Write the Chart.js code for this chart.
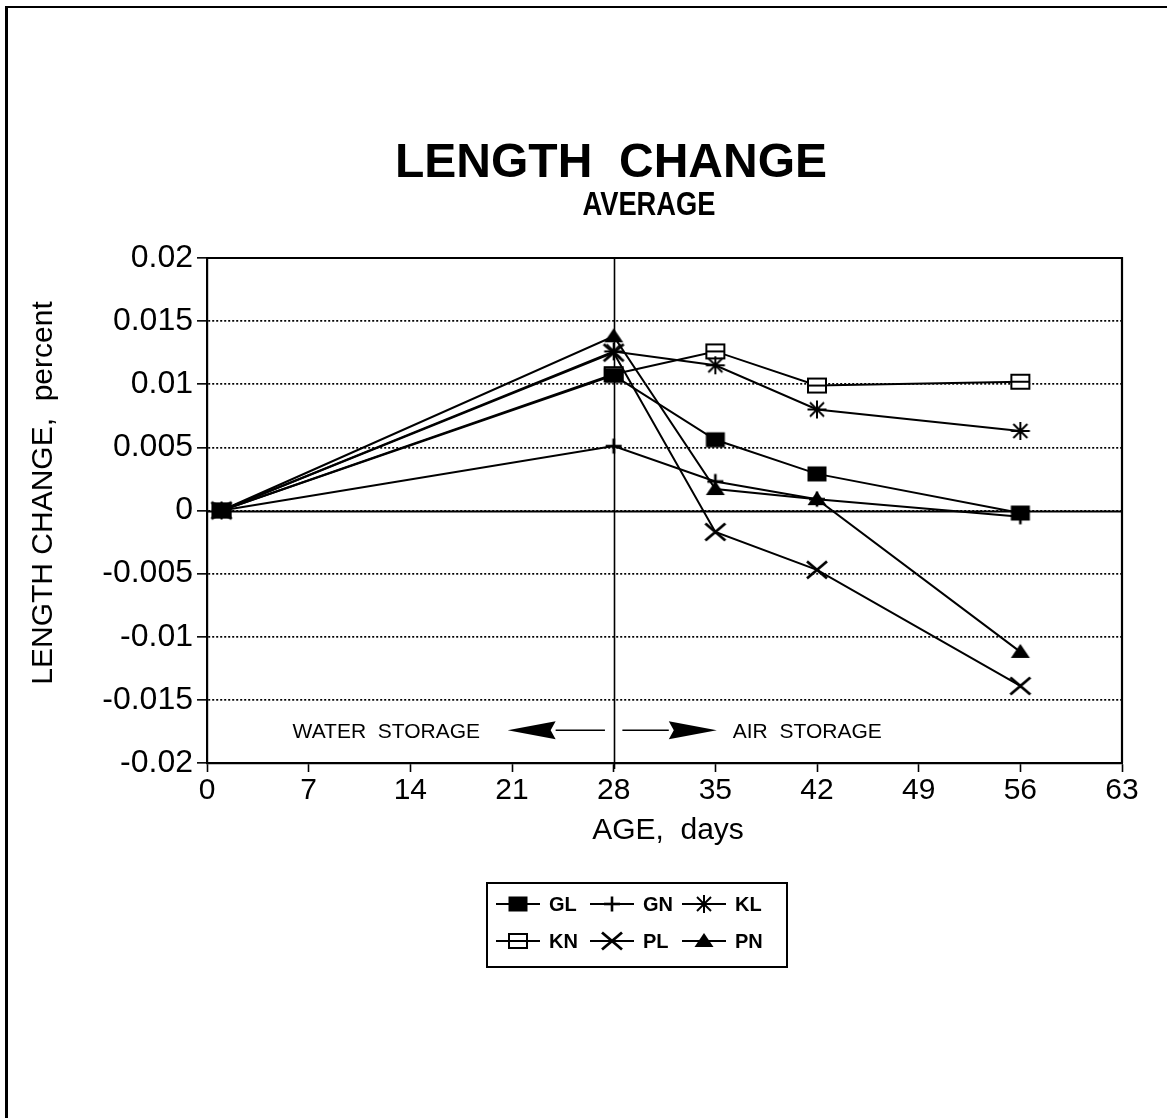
<!DOCTYPE html>
<html>
<head>
<meta charset="utf-8">
<title>Length Change - Average</title>
<script src="https://cdn.jsdelivr.net/npm/chart.js@4/dist/chart.umd.min.js"></script>
<style>
  html, body { margin: 0; padding: 0; background: #fff; }
  #wrap { position: relative; width: 1167px; height: 1118px; }
</style>
</head>
<body>
<div id="wrap"><canvas id="lengthChart"></canvas></div>
<script>
// age of the readings, days
const days = [1, 28, 35, 42, 56];

// average length change, percent
const GL = [0, 0.0107, 0.0056, 0.0029, -0.0002];
const GN = [0, 0.0051, 0.0023, 0.0009, -0.0005];
const KL = [0, 0.0126, 0.0115, 0.0080, 0.0063];
const KN = [0, 0.0108, 0.0126, 0.0099, 0.0102];
const PL = [0, 0.0125, -0.0017, -0.0047, -0.0139];
const PN = [0, 0.0138, 0.0017, 0.0009, -0.0112];

const seriesNames = ['GL', 'GN', 'KL', 'KN', 'PL', 'PN'];
const seriesValues = [GL, GN, KL, KN, PL, PN];

const xTicks = [0, 7, 14, 21, 28, 35, 42, 49, 56, 63];
const yTicks = [-0.02, -0.015, -0.01, -0.005, 0, 0.005, 0.01, 0.015, 0.02];

const switchDay = 28; // specimens moved from water to air

const FONT = '"Liberation Sans", Arial, Helvetica, sans-serif';

// hand drawn markers, the old plotter ones are not square
function makeMarker(kind) {
  const c = document.createElement('canvas');
  c.width = 26; c.height = 26;
  const g = c.getContext('2d');
  g.strokeStyle = '#000';
  g.fillStyle = '#000';
  g.lineWidth = 2.4;
  g.lineCap = 'butt';
  const cx = 13, cy = 13;
  const seg = (x1, y1, x2, y2) => { g.beginPath(); g.moveTo(x1, y1); g.lineTo(x2, y2); g.stroke(); };
  switch (kind) {
    case 'GL':
      g.fillRect(cx - 9.5, cy - 7.5, 19, 15);
      break;
    case 'KN':
      g.fillStyle = '#fff';
      g.fillRect(cx - 9, cy - 7, 18, 14);
      g.lineWidth = 2;
      g.strokeRect(cx - 9, cy - 7, 18, 14);
      seg(cx - 9, cy, cx + 9, cy);
      break;
    case 'GN':
      g.lineWidth = 2.6;
      seg(cx - 8, cy, cx + 8, cy);
      seg(cx, cy - 7.5, cx, cy + 7.5);
      break;
    case 'KL':
      g.lineWidth = 2;
      seg(cx - 9.5, cy, cx + 9.5, cy);
      seg(cx, cy - 9, cx, cy + 9);
      seg(cx - 7, cy - 7, cx + 7, cy + 7);
      seg(cx - 7, cy + 7, cx + 7, cy - 7);
      break;
    case 'PL':
      g.lineWidth = 2.8;
      seg(cx - 10, cy - 8.5, cx + 10, cy + 8.5);
      seg(cx - 10, cy + 8.5, cx + 10, cy - 8.5);
      break;
    case 'PN':
      g.beginPath();
      g.moveTo(cx, cy - 8);
      g.lineTo(cx + 9.5, cy + 6);
      g.lineTo(cx - 9.5, cy + 6);
      g.closePath();
      g.fill();
      break;
  }
  return c;
}

const markers = {};
seriesNames.forEach(n => { markers[n] = makeMarker(n); });

const datasets = seriesNames.map((name, i) => ({
  label: name,
  data: days.map((d, j) => ({ x: d, y: seriesValues[i][j] })),
  borderColor: '#000',
  backgroundColor: '#000',
  borderWidth: 2,
  tension: 0,
  pointStyle: markers[name],
  pointRadius: 10,
  pointHoverRadius: 10,
  fill: false
}));

function fmtTick(v) {
  return String(Math.round(v * 1000) / 1000);
}

const decorations = {
  id: 'decorations',
  beforeDatasetsDraw(chart) {
    const { ctx, chartArea: a, scales: { x, y } } = chart;
    ctx.save();
    ctx.strokeStyle = '#000';
    // zero line
    const y0 = Math.round(y.getPixelForValue(0)) + 0.5;
    ctx.lineWidth = 2.2;
    ctx.beginPath(); ctx.moveTo(a.left, y0); ctx.lineTo(a.right, y0); ctx.stroke();
    // water / air divider
    const xd = Math.round(x.getPixelForValue(switchDay)) + 0.5;
    ctx.lineWidth = 1.6;
    ctx.beginPath(); ctx.moveTo(xd, a.top); ctx.lineTo(xd, a.bottom + 6); ctx.stroke();
    // frame top and right
    ctx.lineWidth = 2.2;
    ctx.beginPath();
    ctx.moveTo(a.left, a.top);
    ctx.lineTo(a.right, a.top);
    ctx.lineTo(a.right, a.bottom);
    ctx.stroke();
    ctx.restore();
  },
  afterDraw(chart) {
    const { ctx, scales: { x, y } } = chart;
    ctx.save();
    ctx.fillStyle = '#000';
    ctx.strokeStyle = '#000';

    // page border
    ctx.fillRect(5, 6, 3, 1112);
    ctx.fillRect(5, 6, 1162, 2);

    // headings
    ctx.textAlign = 'center';
    ctx.textBaseline = 'alphabetic';
    ctx.font = 'bold 48px ' + FONT;
    ctx.fillText('LENGTH  CHANGE', 611, 177, 436);
    ctx.font = 'bold 34px ' + FONT;
    ctx.fillText('AVERAGE', 649, 215, 133);

    // axis titles
    ctx.font = '30px ' + FONT;
    ctx.fillText('AGE,  days', 668, 839);
    ctx.save();
    ctx.translate(52, 493);
    ctx.rotate(-Math.PI / 2);
    ctx.fillText('LENGTH CHANGE,  percent', 0, 0);
    ctx.restore();

    // storage annotation
    const ay = y.getPixelForValue(-0.0174);
    ctx.font = '21px ' + FONT;
    ctx.textAlign = 'right';
    ctx.fillText('WATER  STORAGE', x.getPixelForValue(18.8), ay + 8);
    ctx.textAlign = 'left';
    ctx.fillText('AIR  STORAGE', x.getPixelForValue(36.2), ay + 8);
    const arrow = (tail, tip) => {
      const xt = x.getPixelForValue(tail), xp = x.getPixelForValue(tip);
      const dir = Math.sign(xp - xt);
      const base = xp - dir * 48;
      ctx.lineWidth = 1.6;
      ctx.beginPath(); ctx.moveTo(xt, ay); ctx.lineTo(base, ay); ctx.stroke();
      ctx.beginPath();
      ctx.moveTo(xp, ay);
      ctx.lineTo(base, ay - 9);
      ctx.lineTo(base + dir * 5, ay);
      ctx.lineTo(base, ay + 9);
      ctx.closePath();
      ctx.fill();
    };
    arrow(27.4, 20.7);
    arrow(28.6, 35.1);

    // legend box
    ctx.lineWidth = 2;
    ctx.strokeRect(487, 883, 300, 84);
    const cols = [496, 590, 682];
    const rows = [904, 941];
    ctx.font = 'bold 20px ' + FONT;
    ctx.textAlign = 'left';
    ctx.textBaseline = 'middle';
    seriesNames.forEach((name, i) => {
      const lx = cols[i % 3], ly = rows[Math.floor(i / 3)];
      ctx.lineWidth = 2;
      ctx.beginPath(); ctx.moveTo(lx, ly); ctx.lineTo(lx + 44, ly); ctx.stroke();
      const m = markers[name];
      ctx.drawImage(m, lx + 22 - m.width / 2, ly - m.height / 2);
      ctx.fillText(name, lx + 53, ly + 1);
    });
    ctx.restore();
  }
};

new Chart(document.getElementById('lengthChart'), {
  type: 'line',
  data: { datasets },
  options: {
    responsive: true,
    maintainAspectRatio: false,
    animation: false,
    events: [],
    layout: { padding: { top: 258, right: 45, bottom: 295, left: 0 } },
    plugins: {
      legend: { display: false },
      title: { display: false },
      tooltip: { enabled: false }
    },
    scales: {
      x: {
        type: 'linear',
        min: 0,
        max: 63,
        afterBuildTicks: s => { s.ticks = xTicks.map(v => ({ value: v })); },
        afterFit: s => { s.height = 60; },
        ticks: {
          color: '#000',
          font: { family: FONT, size: 30 },
          padding: 1,
          maxRotation: 0,
          autoSkip: false
        },
        grid: {
          drawOnChartArea: false,
          drawTicks: true,
          tickLength: 9,
          tickColor: '#000',
          tickWidth: 1.6
        },
        border: { color: '#000', width: 2.2 }
      },
      y: {
        type: 'linear',
        min: -0.02,
        max: 0.02,
        afterBuildTicks: s => { s.ticks = yTicks.map(v => ({ value: v })); },
        afterFit: s => { s.width = 207; },
        ticks: {
          color: '#000',
          font: { family: FONT, size: 32 },
          padding: 4,
          callback: v => fmtTick(v)
        },
        grid: {
          color: '#000',
          lineWidth: 1.7,
          drawTicks: true,
          tickLength: 10,
          tickColor: '#000',
          tickWidth: 1.6,
          tickBorderDash: []
        },
        border: { color: '#000', width: 2.2, dash: [2, 2] }
      }
    }
  },
  plugins: [decorations]
});
</script>
</body>
</html>
